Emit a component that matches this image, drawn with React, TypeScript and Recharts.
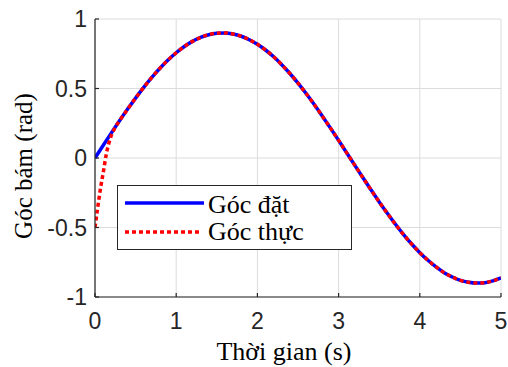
import { LineChart, Line, XAxis, YAxis, CartesianGrid, Legend, Label } from 'recharts';

// reference (set-point) angle, every 0.1 s
const timeSet = [
    0, 0.1, 0.2, 0.3, 0.4, 0.5, 0.6, 0.7, 0.8, 0.9,
    1.0, 1.1, 1.2, 1.3, 1.4, 1.5, 1.6, 1.7, 1.8, 1.9,
    2.0, 2.1, 2.2, 2.3, 2.4, 2.5, 2.6, 2.7, 2.8, 2.9,
    3.0, 3.1, 3.2, 3.3, 3.4, 3.5, 3.6, 3.7, 3.8, 3.9,
    4.0, 4.1, 4.2, 4.3, 4.4, 4.5, 4.6, 4.7, 4.8, 4.9, 5.0,
];
const angleSet = [
    0, 0.09, 0.179, 0.266, 0.35, 0.431, 0.508, 0.58, 0.646, 0.705,
    0.757, 0.802, 0.839, 0.867, 0.887, 0.898, 0.9, 0.892, 0.876, 0.851,
    0.818, 0.777, 0.728, 0.671, 0.608, 0.539, 0.464, 0.385, 0.301, 0.215,
    0.127, 0.037, -0.053, -0.142, -0.23, -0.316, -0.398, -0.477, -0.551, -0.619,
    -0.681, -0.736, -0.784, -0.825, -0.856, -0.88, -0.894, -0.9, -0.897, -0.884, -0.863,
];

// measured angle: starts at -0.5 and catches up within ~0.3 s
const timeReal = [
    0, 0.03, 0.07, 0.1, 0.14, 0.2, 0.25, 0.3, 0.4, 0.5, 0.6, 0.7, 0.8, 0.9,
    1.0, 1.1, 1.2, 1.3, 1.4, 1.5, 1.6, 1.7, 1.8, 1.9,
    2.0, 2.1, 2.2, 2.3, 2.4, 2.5, 2.6, 2.7, 2.8, 2.9,
    3.0, 3.1, 3.2, 3.3, 3.4, 3.5, 3.6, 3.7, 3.8, 3.9,
    4.0, 4.1, 4.2, 4.3, 4.4, 4.5, 4.6, 4.7, 4.8, 4.9, 5.0,
];
const angleReal = [
    -0.5, -0.37, -0.21, -0.11, 0.03, 0.16, 0.22, 0.266, 0.35, 0.431, 0.508, 0.58, 0.646, 0.705,
    0.757, 0.802, 0.839, 0.867, 0.887, 0.898, 0.9, 0.892, 0.876, 0.851,
    0.818, 0.777, 0.728, 0.671, 0.608, 0.539, 0.464, 0.385, 0.301, 0.215,
    0.127, 0.037, -0.053, -0.142, -0.23, -0.316, -0.398, -0.477, -0.551, -0.619,
    -0.681, -0.736, -0.784, -0.825, -0.856, -0.88, -0.894, -0.9, -0.897, -0.884, -0.863,
];

const xTicks = [0, 1, 2, 3, 4, 5];
const yTicks = [-1, -0.5, 0, 0.5, 1];
const seriesNames = ['Góc đặt', 'Góc thực'];

const setData = timeSet.map((t, i) => ({ t, v: angleSet[i] }));
const realData = timeReal.map((t, i) => ({ t, v: angleReal[i] }));

const AXIS = '#262626';
const GRID = '#dcdcdc';
const SANS = '"Liberation Sans", Arial, Helvetica, sans-serif';
const SERIF = '"Liberation Serif", "Times New Roman", serif';

const renderLegend = () => (
    <svg width={235} height={65} style={{ display: 'block' }}>
        <rect x={0.5} y={0.5} width={234} height={64} fill="#fff" stroke={AXIS} strokeWidth={1} />
        <line x1={8} x2={87} y1={18} y2={18} stroke="#0000ff" strokeWidth={3.5} />
        <text x={91} y={28} fontFamily={SERIF} fontSize={26} fill="#000">{seriesNames[0]}</text>
        <line x1={8} x2={84} y1={47} y2={47} stroke="#ff0000" strokeWidth={3.5} strokeDasharray="4 3" />
        <text x={91} y={55} fontFamily={SERIF} fontSize={26} fill="#000">{seriesNames[1]}</text>
    </svg>
);

export default function App() {
    return (
        <div style={{ position: 'absolute', left: 0, top: 0, width: 508, height: 367, background: '#fff' }}>
            <LineChart width={508} height={367} margin={{ top: 19, right: 7, bottom: 0, left: 0 }}>
                <CartesianGrid stroke={GRID} strokeWidth={1} />
                <XAxis
                    dataKey="t" type="number" domain={[0, 5]} ticks={xTicks} allowDataOverflow
                    height={70} stroke={AXIS} strokeWidth={1.2} tickSize={-4} tickMargin={20}
                    tick={{ fontFamily: SANS, fontSize: 23, fill: AXIS }}
                >
                    <Label
                        content={({ viewBox }: any) => (
                            <text x={viewBox.x + 189} y={viewBox.y + 63} textAnchor="middle"
                                fontFamily={SERIF} fontSize={26} fill="#000">Thời gian (s)</text>
                        )}
                    />
                </XAxis>
                <XAxis
                    xAxisId="top" orientation="top" type="number" domain={[0, 5]} ticks={xTicks} allowDataOverflow
                    height={0} stroke={AXIS} strokeWidth={1.2} tickSize={-4} tick={false}
                />
                <YAxis
                    type="number" domain={[-1, 1]} ticks={yTicks} allowDataOverflow
                    width={95} stroke={AXIS} strokeWidth={1.2} tickSize={-4} tickMargin={12}
                    tick={{ fontFamily: SANS, fontSize: 23, fill: AXIS }}
                >
                    <Label
                        content={() => (
                            <text x={32} y={166} textAnchor="middle" transform="rotate(-90 32 166)"
                                fontFamily={SERIF} fontSize={25} fill="#000">Góc bám (rad)</text>
                        )}
                    />
                </YAxis>
                <YAxis
                    yAxisId="right" orientation="right" type="number" domain={[-1, 1]} ticks={yTicks} allowDataOverflow
                    width={0} stroke={AXIS} strokeWidth={1.2} tickSize={-4} tick={false}
                />
                <Line data={setData} dataKey="v" name={seriesNames[0]} type="monotone" stroke="#0000ff"
                    strokeWidth={3.5} dot={false} isAnimationActive={false} />
                <Line data={realData} dataKey="v" name={seriesNames[1]} type="monotone" stroke="#ff0000"
                    strokeWidth={3.5} strokeDasharray="4 3" dot={false} isAnimationActive={false} />
                <Legend
                    layout="vertical" align="center" verticalAlign="middle" content={renderLegend}
                    wrapperStyle={{ left: 117, top: 185, width: 235, height: 65 }}
                />
            </LineChart>
        </div>
    );
}
